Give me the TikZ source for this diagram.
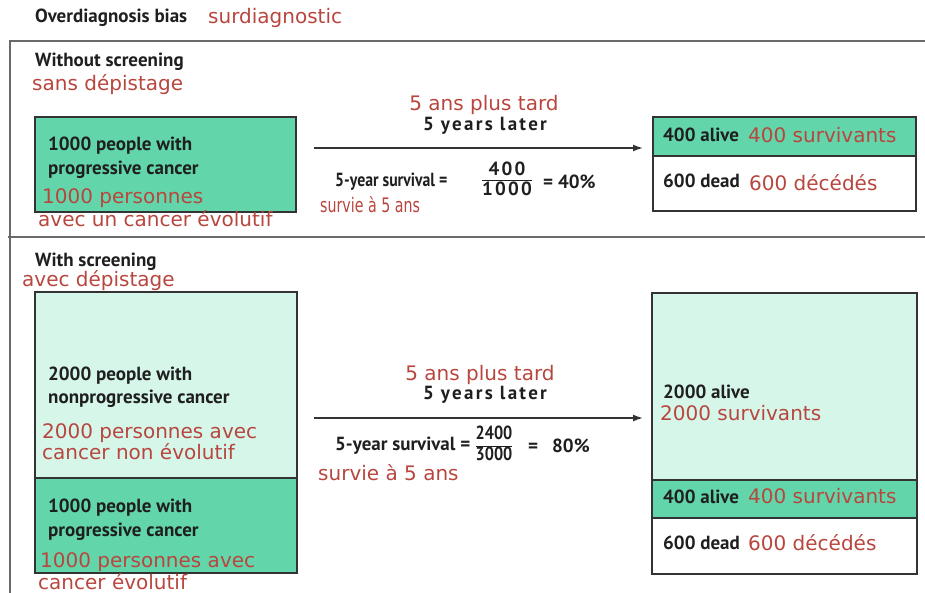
\documentclass[tikz,border=0pt]{standalone}
\usepackage{graphicx}
\usepackage{fontspec}
\setmainfont{PT Sans}
\newfontfamily\bksp{PT Sans}[LetterSpace=12]
\newfontfamily\rd{DejaVu Sans}
\usetikzlibrary{arrows.meta}
\definecolor{midgreen}{HTML}{62D6AA}
\definecolor{lightgreen}{HTML}{D6F6EA}
\definecolor{redtxt}{HTML}{B8463E}
\definecolor{framegray}{HTML}{6A6A6A}
\definecolor{boxline}{HTML}{333333}
\tikzset{
  bt/.style={font=\fontsize{19}{21}\selectfont\bfseries, text=black!88, inner sep=0pt, anchor=west},
  btsp/.style={bt, font=\bksp\fontsize{19}{21}\selectfont\bfseries},
  rt/.style={font=\rd\fontsize{20}{22}\selectfont, text=redtxt, inner sep=0pt, anchor=west},
  cell/.style={draw=boxline, line width=1.5pt, inner sep=0pt, outer sep=0pt, anchor=north west},
  frameline/.style={draw=framegray, line width=1.5pt},
  arr/.style={draw=black!80, line width=1.5pt, -{Latex[length=10pt,width=7pt]}},
}
\begin{document}
\begin{tikzpicture}[x=1pt,y=-1pt]
\useasboundingbox (0,0) rectangle (925,593);
% frame
\draw[frameline] (925,41) -- (10,41) -- (10,593);
\draw[frameline] (8,237) -- (925,237);
% title
\node[bt] (title) at (35,18) {Overdiagnosis bias};
\node[rt] (titlefr) at (208,18) {surdiagnostic};
% ---------- without screening ----------
\node[bt] (wo) at (35,62) {Without screening};
\node[rt] (wofr) at (32,85) {sans dépistage};
\node[cell, fill=midgreen, minimum width=261pt, minimum height=95pt] (b1) at (35,117) {};
\node[bt] (b1t1) at (48,146) {1000 people with};
\node[bt] (b1t2) at (48,170) {progressive cancer};
\node[rt] (b1f1) at (42,198) {1000 personnes};
\node[rt] (b1f2) at (38,219) {avec un cancer évolutif};
\node[cell, fill=midgreen, minimum width=263pt, minimum height=39pt] (r1a) at (653,117) {};
\node[cell, fill=white, minimum width=263pt, minimum height=55pt] (r1b) at (653,156) {};
\node[bt] (r1at) at (663,135) {400 alive};
\node[rt] (r1af) at (748,135) {400 survivants};
\node[bt] (r1bt) at (663,181) {600 dead};
\node[rt] (r1bf) at (749,183) {600 décédés};
\coordinate (a1) at (314,148);
\draw[arr, shorten >=10pt] (a1) -- (r1a.west |- a1);
\node[rt, anchor=center] (l1f) at (484,105) {5 ans plus tard};
\node[btsp, anchor=center] (l1) at (485,126) {5 years later};
\node[bt] (s1) at (335,182) {\scalebox{0.83}[1]{5-year survival =}};
\node[btsp, anchor=center] (fr1) at (507,181) {\renewcommand\arraystretch{0.8}\setlength\arrayrulewidth{1pt}\begin{tabular}{@{}c@{}}400\\\hline 1000\end{tabular}};
\node[bt] (p1) at (543,182) {= 40\%};
\node[rt] (s1f) at (320,205) {\scalebox{0.71}[1]{survie à 5 ans}};
% ---------- with screening ----------
\node[bt] (w) at (35,262) {With screening};
\node[rt] (wfr) at (22,281) {avec dépistage};
\node[cell, fill=lightgreen, minimum width=262pt, minimum height=186pt] (b2a) at (35,292) {};
\node[cell, fill=midgreen, minimum width=262pt, minimum height=95pt] (b2b) at (35,478) {};
\node[bt] (b2t1) at (48,376) {2000 people with};
\node[bt] (b2t2) at (48,399) {nonprogressive cancer};
\node[rt] (b2f1) at (42,433) {2000 personnes avec};
\node[rt] (b2f2) at (42,452) {cancer non évolutif};
\node[bt] (b3t1) at (48,508) {1000 people with};
\node[bt] (b3t2) at (48,532) {progressive cancer};
\node[rt] (b3f1) at (40,562) {1000 personnes avec};
\node[rt] (b3f2) at (38,582) {cancer évolutif};
\node[cell, fill=lightgreen, minimum width=265pt, minimum height=187pt] (r2a) at (652,293) {};
\node[cell, fill=midgreen, minimum width=265pt, minimum height=38pt] (r2b) at (652,480) {};
\node[cell, fill=white, minimum width=265pt, minimum height=56pt] (r2c) at (652,518) {};
\node[bt] (r2at) at (663,392) {2000 alive};
\node[rt] (r2af) at (660,413) {2000 survivants};
\node[bt] (r2bt) at (663,497) {400 alive};
\node[rt] (r2bf) at (748,496) {400 survivants};
\node[bt] (r2ct) at (663,543) {600 dead};
\node[rt] (r2cf) at (748,543) {600 décédés};
\coordinate (a2) at (314,418);
\draw[arr, shorten >=9pt] (a2) -- (r2a.west |- a2);
\node[rt, anchor=center] (l2f) at (480,375) {5 ans plus tard};
\node[btsp, anchor=center] (l2) at (485,395) {5 years later};
\node[bt] (s2) at (335,446) {5-year survival =};
\node[bt, anchor=center] (fr2) at (494,446) {\scalebox{0.85}[1]{\renewcommand\arraystretch{0.95}\setlength\arrayrulewidth{1pt}\begin{tabular}{@{}c@{}}2400\\\hline 3000\end{tabular}}};
\node[bt] (p2) at (528,446) {=\hspace{14pt}80\%};
\node[rt] (s2f) at (318,473) {survie à 5 ans};
\end{tikzpicture}
\end{document}
